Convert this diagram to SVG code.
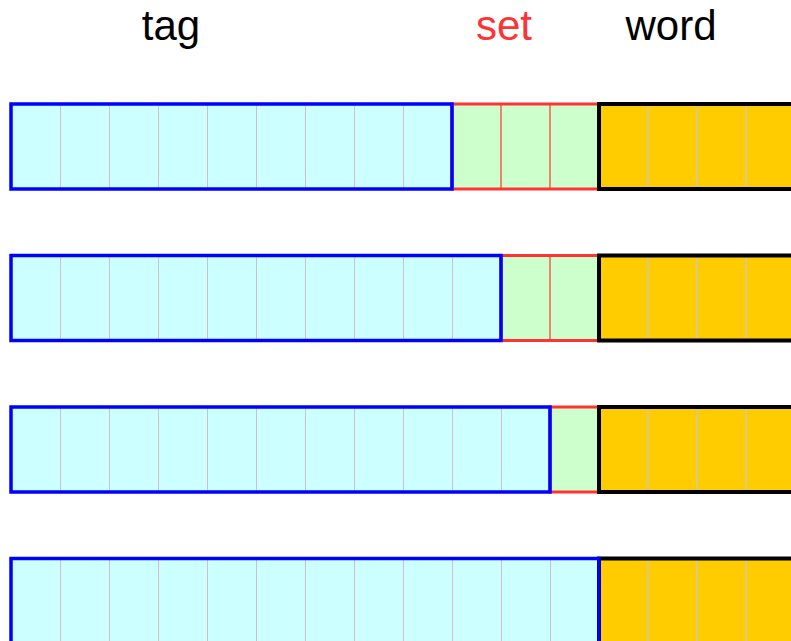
<svg xmlns="http://www.w3.org/2000/svg" width="791" height="641" viewBox="0 0 791 641">
  <style>
    .lbl { font-family: "Liberation Sans", Arial, sans-serif; font-size: 42px; text-anchor: middle; }
    .tag { fill: #ccffff; }
    .set { fill: #ccffcc; stroke: #ff3333; stroke-width: 3; }
    .word { fill: #ffcc00; }
    .tagbox { fill: none; stroke: #0000ff; stroke-width: 3.5; }
    .wordbox { fill: none; stroke: #000000; stroke-width: 4; }
    .div-tag { stroke: #d0c0c4; stroke-width: 1; }
    .div-set { stroke: #ff3333; stroke-width: 1.2; }
    .div-word { stroke: #c8c8c8; stroke-width: 1.4; }
  </style>

  <rect width="791" height="641" fill="#ffffff"/>

  <!-- field headings -->
  <g id="headings">
    <text class="lbl" x="171" y="40" fill="#000000">tag</text>
    <text class="lbl" x="504" y="40" fill="#ff3333">set</text>
    <text class="lbl" x="671" y="40" fill="#000000">word</text>
  </g>

  <!-- row 1: 9 tag bits, 3 set bits -->
  <g id="row1" transform="translate(0,104)">
    <rect class="tag" x="11" y="0" width="441" height="85"/>
    <rect class="set" x="452" y="0" width="147" height="85"/>
    <rect class="word" x="599" y="0" width="210" height="85"/>
    <g class="div-tag">
      <line x1="60.5" y1="0" x2="60.5" y2="85"/><line x1="109.5" y1="0" x2="109.5" y2="85"/>
      <line x1="158.5" y1="0" x2="158.5" y2="85"/><line x1="207.5" y1="0" x2="207.5" y2="85"/>
      <line x1="256.5" y1="0" x2="256.5" y2="85"/><line x1="305.5" y1="0" x2="305.5" y2="85"/>
      <line x1="354.5" y1="0" x2="354.5" y2="85"/><line x1="403.5" y1="0" x2="403.5" y2="85"/>
    </g>
    <g class="div-set">
      <line x1="501" y1="0" x2="501" y2="85"/><line x1="550" y1="0" x2="550" y2="85"/>
    </g>
    <g class="div-word">
      <line x1="648" y1="0" x2="648" y2="85"/><line x1="697" y1="0" x2="697" y2="85"/>
      <line x1="746" y1="0" x2="746" y2="85"/>
    </g>
    <rect class="wordbox" x="599" y="0" width="210" height="85"/>
    <rect class="tagbox" x="11" y="0" width="441" height="85"/>
  </g>

  <!-- row 2: 10 tag bits, 2 set bits -->
  <g id="row2" transform="translate(0,255.5)">
    <rect class="tag" x="11" y="0" width="490" height="85"/>
    <rect class="set" x="501" y="0" width="98" height="85"/>
    <rect class="word" x="599" y="0" width="210" height="85"/>
    <g class="div-tag">
      <line x1="60.5" y1="0" x2="60.5" y2="85"/><line x1="109.5" y1="0" x2="109.5" y2="85"/>
      <line x1="158.5" y1="0" x2="158.5" y2="85"/><line x1="207.5" y1="0" x2="207.5" y2="85"/>
      <line x1="256.5" y1="0" x2="256.5" y2="85"/><line x1="305.5" y1="0" x2="305.5" y2="85"/>
      <line x1="354.5" y1="0" x2="354.5" y2="85"/><line x1="403.5" y1="0" x2="403.5" y2="85"/>
      <line x1="452.5" y1="0" x2="452.5" y2="85"/>
    </g>
    <g class="div-set">
      <line x1="550" y1="0" x2="550" y2="85"/>
    </g>
    <g class="div-word">
      <line x1="648" y1="0" x2="648" y2="85"/><line x1="697" y1="0" x2="697" y2="85"/>
      <line x1="746" y1="0" x2="746" y2="85"/>
    </g>
    <rect class="wordbox" x="599" y="0" width="210" height="85"/>
    <rect class="tagbox" x="11" y="0" width="490" height="85"/>
  </g>

  <!-- row 3: 11 tag bits, 1 set bit -->
  <g id="row3" transform="translate(0,407)">
    <rect class="tag" x="11" y="0" width="539" height="85"/>
    <rect class="set" x="550" y="0" width="49" height="85"/>
    <rect class="word" x="599" y="0" width="210" height="85"/>
    <g class="div-tag">
      <line x1="60.5" y1="0" x2="60.5" y2="85"/><line x1="109.5" y1="0" x2="109.5" y2="85"/>
      <line x1="158.5" y1="0" x2="158.5" y2="85"/><line x1="207.5" y1="0" x2="207.5" y2="85"/>
      <line x1="256.5" y1="0" x2="256.5" y2="85"/><line x1="305.5" y1="0" x2="305.5" y2="85"/>
      <line x1="354.5" y1="0" x2="354.5" y2="85"/><line x1="403.5" y1="0" x2="403.5" y2="85"/>
      <line x1="452.5" y1="0" x2="452.5" y2="85"/><line x1="501.5" y1="0" x2="501.5" y2="85"/>
    </g>
    <g class="div-word">
      <line x1="648" y1="0" x2="648" y2="85"/><line x1="697" y1="0" x2="697" y2="85"/>
      <line x1="746" y1="0" x2="746" y2="85"/>
    </g>
    <rect class="wordbox" x="599" y="0" width="210" height="85"/>
    <rect class="tagbox" x="11" y="0" width="539" height="85"/>
  </g>

  <!-- row 4: 12 tag bits, no set bits -->
  <g id="row4" transform="translate(0,558.5)">
    <rect class="tag" x="11" y="0" width="588" height="85"/>
    <rect class="word" x="599" y="0" width="210" height="85"/>
    <g class="div-tag">
      <line x1="60.5" y1="0" x2="60.5" y2="85"/><line x1="109.5" y1="0" x2="109.5" y2="85"/>
      <line x1="158.5" y1="0" x2="158.5" y2="85"/><line x1="207.5" y1="0" x2="207.5" y2="85"/>
      <line x1="256.5" y1="0" x2="256.5" y2="85"/><line x1="305.5" y1="0" x2="305.5" y2="85"/>
      <line x1="354.5" y1="0" x2="354.5" y2="85"/><line x1="403.5" y1="0" x2="403.5" y2="85"/>
      <line x1="452.5" y1="0" x2="452.5" y2="85"/><line x1="501.5" y1="0" x2="501.5" y2="85"/>
      <line x1="550.5" y1="0" x2="550.5" y2="85"/>
    </g>
    <g class="div-word">
      <line x1="648" y1="0" x2="648" y2="85"/><line x1="697" y1="0" x2="697" y2="85"/>
      <line x1="746" y1="0" x2="746" y2="85"/>
    </g>
    <rect class="wordbox" x="599" y="0" width="210" height="85"/>
    <rect class="tagbox" x="11" y="0" width="588" height="85"/>
  </g>
</svg>
